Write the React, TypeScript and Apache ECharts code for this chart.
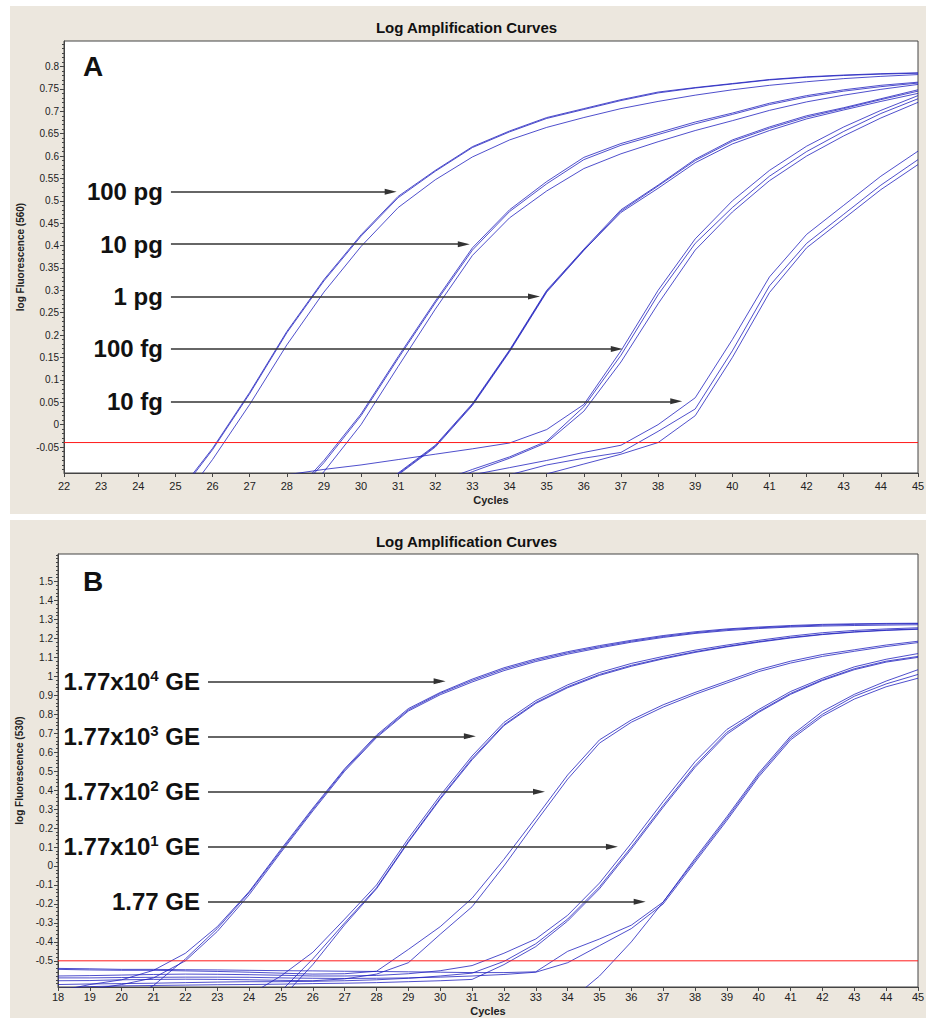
import React, { useEffect, useRef } from "react";
import * as echarts from "echarts";

const FONT = "'Liberation Sans', Arial, Helvetica, sans-serif";

// ---------- Panel A (log Fluorescence 560) ----------
const cyclesA = [22, 23, 24, 25, 26, 27, 28, 29, 30, 31, 32, 33, 34, 35, 36, 37, 38, 39, 40, 41, 42, 43, 44, 45];
const a100pg1 = [null, null, null, -0.16, -0.053, 0.072, 0.208, 0.324, 0.424, 0.51, 0.568, 0.621, 0.656, 0.686, 0.706, 0.726, 0.743, 0.753, 0.762, 0.771, 0.777, 0.781, 0.784, 0.786];
const a100pg2 = [null, null, null, -0.19, -0.078, 0.045, 0.178, 0.296, 0.398, 0.485, 0.547, 0.598, 0.636, 0.664, 0.686, 0.706, 0.722, 0.736, 0.748, 0.758, 0.766, 0.773, 0.778, 0.782];
const a100pg3 = [null, null, null, -0.165, -0.056, 0.069, 0.205, 0.321, 0.421, 0.507, 0.566, 0.619, 0.654, 0.684, 0.704, 0.724, 0.741, 0.752, 0.761, 0.77, 0.776, 0.78, 0.783, 0.785];
const a10pg1 = [null, null, null, null, null, null, -0.17, -0.08, 0.024, 0.152, 0.276, 0.395, 0.48, 0.543, 0.597, 0.628, 0.652, 0.676, 0.696, 0.718, 0.735, 0.748, 0.758, 0.765];
const a10pg2 = [null, null, null, null, null, null, -0.2, -0.105, 0.0, 0.13, 0.258, 0.378, 0.462, 0.522, 0.572, 0.605, 0.632, 0.657, 0.679, 0.702, 0.721, 0.736, 0.749, 0.76];
const a10pg3 = [null, null, null, null, null, null, -0.175, -0.085, 0.02, 0.148, 0.272, 0.39, 0.476, 0.538, 0.592, 0.624, 0.648, 0.672, 0.693, 0.715, 0.732, 0.745, 0.755, 0.763];
const a1pg1 = [null, null, null, null, null, null, null, null, -0.17, -0.108, -0.046, 0.047, 0.167, 0.3, 0.392, 0.48, 0.535, 0.593, 0.636, 0.665, 0.69, 0.708, 0.728, 0.748];
const a1pg2 = [null, null, null, null, null, null, null, null, -0.175, -0.112, -0.05, 0.043, 0.163, 0.296, 0.389, 0.477, 0.533, 0.59, 0.633, 0.662, 0.687, 0.706, 0.726, 0.745];
const a1pg3 = [null, null, null, null, null, null, null, null, -0.172, -0.11, -0.048, 0.045, 0.165, 0.298, 0.39, 0.474, 0.528, 0.585, 0.627, 0.657, 0.683, 0.703, 0.722, 0.74];
const a100fg1 = [null, null, null, null, null, null, -0.112, -0.1, -0.09, -0.078, -0.066, -0.054, -0.041, -0.011, 0.045, 0.165, 0.3, 0.415, 0.5, 0.568, 0.622, 0.665, 0.702, 0.735];
const a100fg2 = [null, null, null, null, null, null, null, null, null, null, -0.13, -0.1, -0.072, -0.037, 0.04, 0.155, 0.29, 0.405, 0.485, 0.555, 0.61, 0.655, 0.695, 0.728];
const a100fg3 = [null, null, null, null, null, null, null, null, null, null, -0.14, -0.105, -0.075, -0.04, 0.03, 0.14, 0.27, 0.39, 0.475, 0.545, 0.6, 0.645, 0.685, 0.72];
const a10fg1 = [null, null, null, null, null, null, null, null, null, null, -0.13, -0.112, -0.096, -0.08, -0.062, -0.046, 0.0, 0.06, 0.19, 0.33, 0.425, 0.49, 0.555, 0.611];
const a10fg2 = [null, null, null, null, null, null, null, null, null, null, null, -0.13, -0.112, -0.09, -0.075, -0.062, -0.015, 0.035, 0.165, 0.31, 0.405, 0.47, 0.535, 0.592];
const a10fg3 = [null, null, null, null, null, null, null, null, null, null, null, null, null, -0.11, -0.088, -0.066, -0.04, 0.02, 0.15, 0.295, 0.395, 0.46, 0.525, 0.581];
const curvesA = [a100pg1, a100pg2, a100pg3, a10pg1, a10pg2, a10pg3, a1pg1, a1pg2, a1pg3, a100fg1, a100fg2, a100fg3, a10fg1, a10fg2, a10fg3];
const yTicksA = [-0.05, 0, 0.05, 0.1, 0.15, 0.2, 0.25, 0.3, 0.35, 0.4, 0.45, 0.5, 0.55, 0.6, 0.65, 0.7, 0.75, 0.8];
const thresholdA = -0.04;
const labelsA = ["100 pg", "10 pg", "1 pg", "100 fg", "10 fg"];
const arrowYA = [0.52, 0.403, 0.286, 0.169, 0.052];
const arrowTipA = [30.96, 32.93, 34.82, 37.05, 38.65];
const arrowStartA = 24.88;

// ---------- Panel B (log Fluorescence 530) ----------
const cyclesB = [18, 19, 20, 21, 22, 23, 24, 25, 26, 27, 28, 29, 30, 31, 32, 33, 34, 35, 36, 37, 38, 39, 40, 41, 42, 43, 44, 45];
const g1a = [-0.66, -0.625, -0.6, -0.55, -0.46, -0.32, -0.135, 0.088, 0.305, 0.513, 0.69, 0.83, 0.915, 0.985, 1.045, 1.092, 1.13, 1.162, 1.19, 1.215, 1.235, 1.25, 1.26, 1.268, 1.274, 1.277, 1.279, 1.28];
const g1b = [null, -0.65, -0.625, -0.59, -0.5, -0.345, -0.152, 0.072, 0.29, 0.5, 0.677, 0.817, 0.903, 0.97, 1.03, 1.078, 1.117, 1.15, 1.18, 1.205, 1.226, 1.241, 1.252, 1.26, 1.265, 1.268, 1.27, 1.272];
const g1c = [null, null, -0.72, -0.63, -0.49, -0.33, -0.14, 0.08, 0.298, 0.507, 0.683, 0.823, 0.91, 0.978, 1.038, 1.085, 1.124, 1.156, 1.185, 1.21, 1.23, 1.246, 1.256, 1.264, 1.27, 1.274, 1.276, 1.278];
const g2a = [null, null, null, null, null, null, -0.68, -0.58, -0.455, -0.28, -0.1, 0.145, 0.372, 0.58, 0.757, 0.872, 0.955, 1.02, 1.068, 1.105, 1.138, 1.165, 1.19, 1.212, 1.23, 1.242, 1.25, 1.256];
const g2b = [null, null, null, null, null, null, null, -0.66, -0.49, -0.3, -0.115, 0.13, 0.358, 0.567, 0.745, 0.862, 0.945, 1.01, 1.058, 1.096, 1.13, 1.158, 1.183, 1.205, 1.222, 1.235, 1.244, 1.25];
const g2c = [null, null, null, null, null, null, null, -0.7, -0.52, -0.31, -0.12, 0.125, 0.352, 0.56, 0.74, 0.857, 0.94, 1.005, 1.053, 1.092, 1.126, 1.155, 1.18, 1.202, 1.22, 1.233, 1.242, 1.248];
const g3a = [-0.545, -0.548, -0.55, -0.55, -0.553, -0.556, -0.56, -0.565, -0.57, -0.568, -0.555, -0.44, -0.32, -0.17, 0.035, 0.255, 0.48, 0.665, 0.77, 0.85, 0.915, 0.975, 1.035, 1.08, 1.115, 1.14, 1.165, 1.185];
const g3b = [-0.605, -0.604, -0.6, -0.598, -0.597, -0.598, -0.6, -0.603, -0.605, -0.595, -0.57, -0.51, -0.36, -0.215, 0.0, 0.232, 0.458, 0.648, 0.758, 0.838, 0.905, 0.965, 1.025, 1.07, 1.105, 1.132, 1.157, 1.178];
const g4a = [-0.58, -0.578, -0.575, -0.572, -0.57, -0.571, -0.573, -0.576, -0.58, -0.58, -0.577, -0.568, -0.552, -0.525, -0.46, -0.385, -0.26, -0.09, 0.12, 0.34, 0.55, 0.72, 0.825, 0.92, 0.99, 1.05, 1.09, 1.12];
const g4b = [-0.625, -0.622, -0.62, -0.618, -0.615, -0.612, -0.61, -0.61, -0.608, -0.605, -0.6, -0.592, -0.58, -0.565, -0.503, -0.41, -0.28, -0.11, 0.1, 0.32, 0.53, 0.705, 0.815, 0.91, 0.982, 1.04, 1.08, 1.105];
const g4c = [-0.645, -0.636, -0.632, -0.63, -0.628, -0.626, -0.625, -0.623, -0.62, -0.618, -0.615, -0.61, -0.605, -0.598, -0.52, -0.425, -0.29, -0.12, 0.09, 0.31, 0.52, 0.695, 0.81, 0.905, 0.978, 1.035, 1.075, 1.1];
const g5a = [-0.54, -0.542, -0.545, -0.545, -0.547, -0.548, -0.55, -0.552, -0.553, -0.555, -0.556, -0.558, -0.56, -0.562, -0.562, -0.558, -0.45, -0.385, -0.312, -0.19, 0.04, 0.26, 0.49, 0.685, 0.815, 0.905, 0.975, 1.035];
const g5b = [-0.59, -0.59, -0.588, -0.587, -0.586, -0.586, -0.587, -0.59, -0.592, -0.593, -0.592, -0.59, -0.586, -0.58, -0.572, -0.56, -0.51, -0.42, -0.33, -0.2, 0.02, 0.24, 0.47, 0.665, 0.79, 0.88, 0.945, 0.99];
const g5c = [null, null, null, null, null, null, null, null, null, null, null, null, null, null, null, null, -0.72, -0.58, -0.4, -0.19, 0.03, 0.25, 0.48, 0.675, 0.8, 0.895, 0.96, 1.01];
const curvesB = [g1a, g1b, g1c, g2a, g2b, g2c, g3a, g3b, g4a, g4b, g4c, g5a, g5b, g5c];
const yTicksB = [-0.5, -0.4, -0.3, -0.2, -0.1, 0, 0.1, 0.2, 0.3, 0.4, 0.5, 0.6, 0.7, 0.8, 0.9, 1, 1.1, 1.2, 1.3, 1.4, 1.5];
const thresholdB = -0.5;
const labelsB = ["1.77x10^4 GE", "1.77x10^3 GE", "1.77x10^2 GE", "1.77x10^1 GE", "1.77 GE"];
const arrowYB = [0.974, 0.684, 0.392, 0.102, -0.189];
const arrowTipB = [30.17, 31.12, 33.29, 35.58, 36.45];
const arrowStartB = 22.71;

const fmt = (v: number) => String(parseFloat(v.toFixed(2)));
const toPoints = (cycles: number[], vals: (number | null)[]) =>
  cycles.map((c, i) => [c, vals[i]]).filter((p) => p[1] !== null);
const range = (a: number, b: number, step: number) => {
  const out: number[] = [];
  for (let v = a; v <= b + 1e-9; v += step) out.push(parseFloat(v.toFixed(3)));
  return out;
};

const CURVE = "rgba(30,30,190,0.78)";
const BEIGE = "#ece7de";
const RED = "#ff1a1a";

function buildOption() {
  const gA = { left: 64, top: 41, width: 854, height: 432 };
  const gB = { left: 58, top: 554, width: 860, height: 433 };
  const yMinA = -0.108, yMaxA = 0.857;
  const yMinB = -0.638, yMaxB = 1.645;
  const pxA = gA.width / (45 - 22);
  const pxB = gB.width / (45 - 18);
  const head = 12;

  const tickLabel = { fontSize: 10, color: "#222", fontFamily: FONT };
  const axisLineStyle = { color: "#444", width: 1 };

  const xAxisBase = (gridIndex: number, min: number, margin: number, gap: number) => ({
    type: "value",
    gridIndex,
    min,
    max: 45,
    interval: 1,
    name: "Cycles",
    nameLocation: "middle",
    nameGap: gap,
    nameTextStyle: { fontSize: 11, fontWeight: "bold", color: "#222", fontFamily: FONT },
    axisLine: { show: true, onZero: false, lineStyle: axisLineStyle },
    axisTick: { show: true, length: 4, lineStyle: axisLineStyle },
    axisLabel: { fontSize: 11, color: "#222", margin, fontFamily: FONT },
    splitLine: { show: false },
  });

  const yMain = (gridIndex: number, min: number, max: number, ticks: number[], name: string) => ({
    type: "value",
    gridIndex,
    min,
    max,
    position: "left",
    name,
    nameLocation: "middle",
    nameRotate: 90,
    nameGap: 31,
    nameTextStyle: { fontSize: 10, fontWeight: "bold", color: "#222", fontFamily: FONT },
    axisLine: { show: true, onZero: false, lineStyle: axisLineStyle },
    axisTick: { show: true, length: 4, customValues: ticks, lineStyle: axisLineStyle },
    axisLabel: { show: true, customValues: ticks, formatter: (v: number) => fmt(v), margin: 5, ...tickLabel },
    splitLine: { show: false },
  });

  const yMinor = (gridIndex: number, min: number, max: number, ticks: number[]) => ({
    type: "value",
    gridIndex,
    min,
    max,
    position: "left",
    axisLine: { show: false },
    axisTick: { show: true, length: 2, customValues: ticks, lineStyle: axisLineStyle },
    axisLabel: { show: false },
    splitLine: { show: false },
  });

  const curveSeries = (cycles: number[], vals: (number | null)[], xi: number, yi: number) => ({
    type: "line",
    xAxisIndex: xi,
    yAxisIndex: yi,
    data: toPoints(cycles, vals),
    showSymbol: false,
    symbol: "none",
    silent: true,
    clip: true,
    lineStyle: { width: 1, color: CURVE },
    emphasis: { disabled: true },
    z: 2,
  });

  const thresholdSeries = (xMin: number, y: number, xi: number, yi: number) => ({
    type: "line",
    xAxisIndex: xi,
    yAxisIndex: yi,
    data: [[xMin, y], [45, y]],
    showSymbol: false,
    symbol: "none",
    silent: true,
    lineStyle: { width: 1, color: RED },
    itemStyle: { color: RED },
    emphasis: { disabled: true },
    z: 3,
  });

  const labelText = (s: string) => {
    const m = s.match(/^(.*)\^(\d)(.*)$/);
    if (!m) return `{t|${s}}`;
    return `{t|${m[1]}}{s|${m[2]}}{t|${m[3]}}`;
  };

  const arrowLines = (labels: string[], ys: number[], tips: number[], start: number, px: number) => ({
    silent: true,
    animation: false,
    symbol: ["none", "triangle"],
    symbolSize: [6, head],
    lineStyle: { color: "#333", width: 1.6, type: "solid" },
    label: {
      show: true,
      position: "start",
      distance: 8,
      formatter: (p: any) => labelText(p.name),
      rich: {
        t: { fontSize: 24, fontWeight: "bold", color: "#111", fontFamily: FONT, lineHeight: 27 },
        s: { fontSize: 15, fontWeight: "bold", color: "#111", fontFamily: FONT, verticalAlign: "top", lineHeight: 27 },
      },
    },
    itemStyle: { color: "#333" },
    data: labels.map((name, i) => [
      { name, coord: [start, ys[i]] },
      { coord: [tips[i] - head / 2 / px, ys[i]] },
    ]),
  });

  const seriesA: any[] = curvesA.map((v) => curveSeries(cyclesA, v, 0, 0));
  const seriesB: any[] = curvesB.map((v) => curveSeries(cyclesB, v, 1, 2));
  seriesA[1].markLine = arrowLines(labelsA, arrowYA, arrowTipA, arrowStartA, pxA);
  seriesB[1].markLine = arrowLines(labelsB, arrowYB, arrowTipB, arrowStartB, pxB);

  const titleStyle = { fontSize: 15, fontWeight: "bold", color: "#111", fontFamily: FONT };

  return {
    animation: false,
    backgroundColor: "#ffffff",
    textStyle: { fontFamily: FONT },
    title: [
      { text: "Log Amplification Curves", left: "center", top: 15, textStyle: titleStyle },
      { text: "Log Amplification Curves", left: "center", top: 529, textStyle: titleStyle },
    ],
    graphic: [
      { type: "rect", z: -10, silent: true, shape: { x: 10, y: 6, width: 916, height: 508 }, style: { fill: BEIGE } },
      { type: "rect", z: -10, silent: true, shape: { x: 10, y: 520, width: 916, height: 498 }, style: { fill: BEIGE } },
      { type: "text", z: 10, silent: true, x: 83, y: 52, style: { text: "A", font: `bold 28px ${FONT}`, fill: "#111", verticalAlign: "top" } },
      { type: "text", z: 10, silent: true, x: 83, y: 567, style: { text: "B", font: `bold 28px ${FONT}`, fill: "#111", verticalAlign: "top" } },
    ],
    grid: [
      { ...gA, show: true, backgroundColor: "#ffffff", borderColor: "#444", borderWidth: 1, containLabel: false },
      { ...gB, show: true, backgroundColor: "#ffffff", borderColor: "#444", borderWidth: 1, containLabel: false },
    ],
    xAxis: [xAxisBase(0, 22, 7, 21), xAxisBase(1, 18, 4, 18)],
    yAxis: [
      yMain(0, yMinA, yMaxA, yTicksA, "log Fluorescence (560)"),
      yMinor(0, yMinA, yMaxA, range(-0.1, 0.85, 0.01)),
      yMain(1, yMinB, yMaxB, yTicksB, "log Fluorescence (530)"),
      yMinor(1, yMinB, yMaxB, range(-0.62, 1.64, 0.02)),
    ],
    series: [
      ...seriesA,
      thresholdSeries(22, thresholdA, 0, 0),
      ...seriesB,
      thresholdSeries(18, thresholdB, 1, 2),
    ],
  };
}

export default function App() {
  const ref = useRef<HTMLDivElement>(null);
  useEffect(() => {
    if (!ref.current) return;
    const chart = echarts.init(ref.current, undefined, { renderer: "svg" });
    chart.setOption(buildOption() as any);
    return () => chart.dispose();
  }, []);
  return <div ref={ref} style={{ position: "absolute", left: 0, top: 0, width: 933, height: 1023 }} />;
}
